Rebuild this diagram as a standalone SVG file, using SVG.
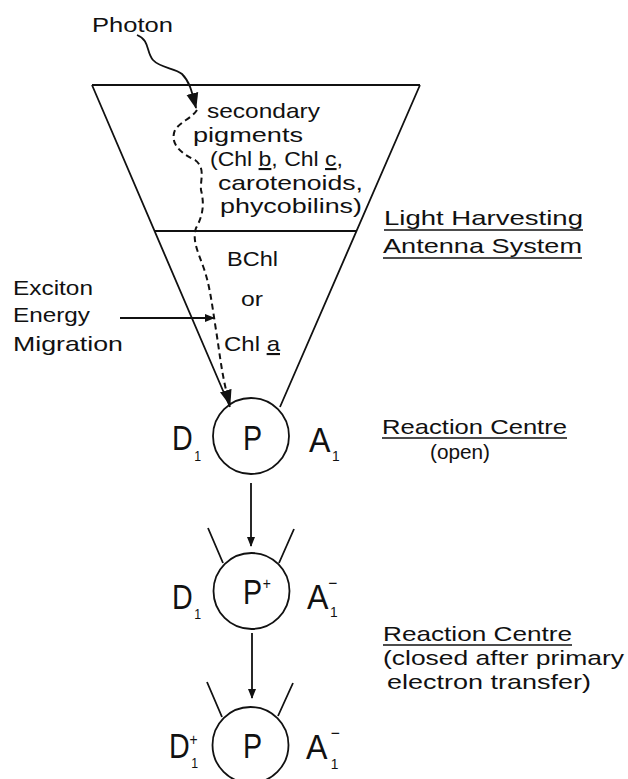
<svg xmlns="http://www.w3.org/2000/svg" width="628" height="779" viewBox="0 0 628 779">
  <defs>
    <style>
      .t { font-family: "Liberation Sans", Arial, sans-serif; font-size: 21px; fill: #111; }
      .big { font-family: "Liberation Sans", Arial, sans-serif; font-size: 35px; fill: #111; }
      .sub { font-size: 15px; }
      .sup { font-size: 17px; }
      .u { text-decoration: underline; }
      .ln { stroke: #111; stroke-width: 1.8; fill: none; }
      .ul { stroke: #111; stroke-width: 1.5; fill: none; }
      .dash { stroke: #111; stroke-width: 2; fill: none; stroke-dasharray: 6 4; }
    </style>
    <marker id="head" markerWidth="10" markerHeight="10" refX="9" refY="5" orient="auto" markerUnits="userSpaceOnUse">
      <path d="M0,1 L10,5 L0,9 Z" fill="#111"/>
    </marker>
    <marker id="bighead" markerWidth="16" markerHeight="14" refX="15" refY="7" orient="auto" markerUnits="userSpaceOnUse">
      <path d="M0,1 L16,7 L0,13 Z" fill="#111"/>
    </marker>
  </defs>
  <rect width="628" height="779" fill="#fff"/>

  <!-- antenna funnel -->
  <g id="antenna">
    <path class="ln" d="M92,85 L420,85 M92,85 L230,407 M420,85 L280,407 M155,231 L357,231"/>
    <text class="t" x="207" y="118" textLength="113" lengthAdjust="spacingAndGlyphs">secondary</text>
    <text class="t" x="193" y="142" textLength="110" lengthAdjust="spacingAndGlyphs">pigments</text>
    <text class="t" x="210" y="166" textLength="133" lengthAdjust="spacingAndGlyphs">(Chl <tspan class="u">b</tspan>, Chl <tspan class="u">c</tspan>,</text>
    <text class="t" x="218" y="190" textLength="145" lengthAdjust="spacingAndGlyphs">carotenoids,</text>
    <text class="t" x="220" y="213" textLength="142" lengthAdjust="spacingAndGlyphs">phycobilins)</text>
    <text class="t" x="227" y="266" textLength="51" lengthAdjust="spacingAndGlyphs">BChl</text>
    <text class="t" x="241" y="306" textLength="22" lengthAdjust="spacingAndGlyphs">or</text>
    <text class="t" x="224" y="351" textLength="56" lengthAdjust="spacingAndGlyphs">Chl <tspan class="u">a</tspan></text>
  </g>

  <g id="photon">
    <text class="t" x="92" y="32" textLength="81" lengthAdjust="spacingAndGlyphs">Photon</text>
  </g>

  <g id="antenna-label">
    <text class="t" x="384" y="225" textLength="199" lengthAdjust="spacingAndGlyphs">Light Harvesting</text>
    <path class="ul" d="M384,230 L583,230"/>
    <text class="t" x="383" y="253" textLength="199" lengthAdjust="spacingAndGlyphs">Antenna System</text>
    <path class="ul" d="M383,258 L582,258"/>
  </g>

  <g id="exciton-label">
    <text class="t" x="13" y="295" textLength="80" lengthAdjust="spacingAndGlyphs">Exciton</text>
    <text class="t" x="13" y="322" textLength="77" lengthAdjust="spacingAndGlyphs">Energy</text>
    <text class="t" x="13" y="351" textLength="110" lengthAdjust="spacingAndGlyphs">Migration</text>
  </g>

  <!-- reaction centre, open -->
  <g id="rc-open">
    <circle class="ln" cx="251" cy="436" r="38"/>
    <text class="big" transform="translate(172,450) scale(0.82,1)">D<tspan class="sub" x="27" y="11">1</tspan></text>
    <text class="big" transform="translate(243,450) scale(0.82,1)">P</text>
    <text class="big" transform="translate(309,452) scale(0.92,1)">A<tspan class="sub" x="25" y="9">1</tspan></text>
    <text class="t" x="382" y="434" textLength="185" lengthAdjust="spacingAndGlyphs">Reaction Centre</text>
    <path class="ul" d="M382,438 L567,438"/>
    <text class="t" x="430" y="459" textLength="60" lengthAdjust="spacingAndGlyphs">(open)</text>
  </g>

  <!-- reaction centre after charge separation -->
  <g id="rc-closed-1">
    <path class="ln" d="M208,528 L223,563 M294,529 L279,563"/>
    <circle class="ln" cx="251.5" cy="591" r="38"/>
    <text class="big" transform="translate(172,609) scale(0.82,1)">D<tspan class="sub" x="27" y="10">1</tspan></text>
    <text class="big" transform="translate(243,604) scale(0.82,1)">P<tspan class="sup" x="24" y="-15">+</tspan></text>
    <text class="big" transform="translate(307,609) scale(0.92,1)">A<tspan class="sup" x="23" y="-20">−</tspan><tspan class="sub" x="25" y="8">1</tspan></text>
  </g>

  <g id="rc-closed-label">
    <text class="t" x="383" y="641" textLength="189" lengthAdjust="spacingAndGlyphs">Reaction Centre</text>
    <path class="ul" d="M383,645 L572,645"/>
    <text class="t" x="383" y="665" textLength="241" lengthAdjust="spacingAndGlyphs">(closed after primary</text>
    <text class="t" x="387" y="689" textLength="204" lengthAdjust="spacingAndGlyphs">electron transfer)</text>
  </g>

  <!-- reaction centre after secondary donation -->
  <g id="rc-closed-2">
    <path class="ln" d="M207,682 L222,717 M293,683 L278,716"/>
    <circle class="ln" cx="250.5" cy="745" r="38"/>
    <text class="big" transform="translate(169,758) scale(0.82,1)">D<tspan class="sup" x="25" y="-13">+</tspan><tspan class="sub" x="27" y="10">1</tspan></text>
    <text class="big" transform="translate(243,758) scale(0.82,1)">P</text>
    <text class="big" transform="translate(306,759) scale(0.92,1)">A<tspan class="sup" x="27" y="-20">−</tspan><tspan class="sub" x="27" y="10">1</tspan></text>
  </g>

  <!-- connectors -->
  <g id="connectors">
    <path class="ln" d="M137,35 C150,40 146,52 153,60 C160,68 175,68 182,74 C190,82 192,92 196,108" marker-end="url(#bighead)"/>
    <path class="dash" d="M197,110 C192,118 180,122 175,130 C170,142 178,152 195,160 C206,168 200,180 201,190 C204,202 204,214 196,228 C192,240 198,252 203,266 C210,285 212,305 216,330 C220,355 222,378 230,405" marker-end="url(#bighead)"/>
    <path class="ln" d="M120,318 L214,318" marker-end="url(#head)"/>
    <path class="ln" d="M251,483 L251,546" marker-end="url(#head)"/>
    <path class="ln" d="M252,633 L252,698" marker-end="url(#head)"/>
  </g>
</svg>
